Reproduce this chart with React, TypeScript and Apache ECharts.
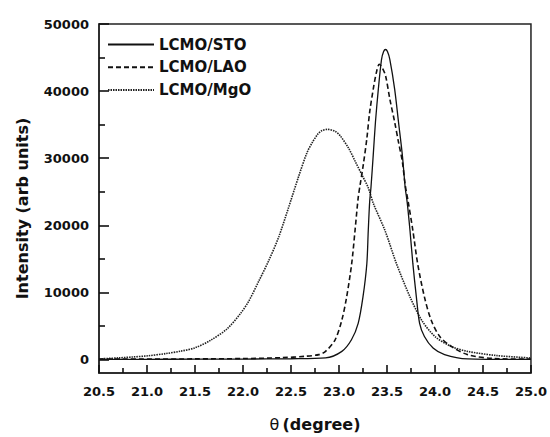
import React, { useEffect, useRef } from "react";
import * as echarts from "echarts";

const seriesNames = ["LCMO/STO", "LCMO/LAO", "LCMO/MgO"];

const stoTheta = [20.5, 21.0, 21.5, 22.0, 22.5, 22.86, 23.03, 23.13, 23.2, 23.25, 23.29, 23.305, 23.32, 23.333, 23.357, 23.38, 23.41, 23.443, 23.465, 23.485, 23.505, 23.53, 23.58, 23.62, 23.66, 23.69, 23.71, 23.74, 23.77, 23.806, 23.84, 23.89, 23.98, 24.1, 24.34, 24.6, 25.0];
const stoI = [30, 40, 60, 80, 120, 240, 1220, 2950, 5400, 9340, 14250, 19200, 23600, 25600, 30500, 35400, 40300, 44700, 45900, 46200, 45900, 44700, 40300, 35400, 30500, 25600, 23500, 19200, 14250, 9340, 5400, 3440, 1720, 740, 90, 40, 20];

const laoTheta = [20.5, 21.5, 22.0, 22.4, 22.65, 22.79, 22.86, 22.96, 23.03, 23.08, 23.132, 23.167, 23.2, 23.22, 23.253, 23.29, 23.32, 23.357, 23.39, 23.42, 23.45, 23.485, 23.53, 23.58, 23.62, 23.66, 23.69, 23.72, 23.77, 23.82, 23.89, 23.96, 24.05, 24.17, 24.34, 24.62, 25.0];
const laoI = [60, 100, 150, 280, 490, 740, 1220, 2950, 5900, 9340, 14250, 19200, 24100, 26000, 29000, 32900, 36900, 40300, 42800, 44000, 43500, 42300, 38800, 35400, 32400, 29500, 26000, 23600, 19200, 14250, 9340, 5900, 3440, 1960, 740, 150, 60];

const mgoTheta = [20.5, 20.7, 20.85, 21.0, 21.2, 21.35, 21.5, 21.665, 21.836, 21.976, 22.06, 22.165, 22.27, 22.373, 22.476, 22.58, 22.666, 22.72, 22.78, 22.82, 22.88, 22.96, 23.01, 23.1, 23.17, 23.24, 23.305, 23.357, 23.48, 23.6, 23.74, 23.86, 24.0, 24.17, 24.34, 24.65, 25.0];
const mgoI = [100, 250, 390, 550, 900, 1250, 1750, 2900, 4600, 6900, 8700, 11700, 14800, 18300, 22700, 27300, 30800, 32300, 33600, 34100, 34300, 34000, 33400, 31500, 29500, 27500, 25600, 23300, 19200, 14250, 9340, 5900, 3440, 1960, 1220, 590, 240];

const yLabelValues = [0, 10000, 20000, 30000, 40000, 50000];
const yMinorValues = [5000, 15000, 25000, 35000, 45000];

const FONT = "DejaVu Sans";

function pairs(xs: number[], ys: number[]) {
  return xs.map((x, i) => [x, ys[i]]);
}

export default function App() {
  const ref = useRef<HTMLDivElement>(null);
  useEffect(() => {
    if (!ref.current) return;
    const chart = echarts.init(ref.current, undefined, { renderer: "svg" });
    const lineColor = "#111";
    const tickStyle = { color: "#111", width: 1.6 };
    chart.setOption({
      animation: false,
      backgroundColor: "#fff",
      grid: {
        left: 99,
        top: 24,
        width: 435,
        height: 353,
        show: true,
        borderColor: "#222",
        borderWidth: 1.5,
        backgroundColor: "transparent",
      },
      legend: {
        orient: "vertical",
        left: 107,
        top: 37,
        padding: 0,
        itemWidth: 46,
        itemHeight: 14,
        itemGap: 7.7,
        data: seriesNames,
        itemStyle: { opacity: 0 },
        lineStyle: { opacity: 1 },
        textStyle: { fontFamily: FONT, fontWeight: "bold", fontSize: 15, color: "#111" },
      },
      xAxis: {
        type: "value",
        min: 20.5,
        max: 25.0,
        interval: 0.5,
        name: "{a|θ} {b|(degree)}",
        nameLocation: "middle",
        nameGap: 43,
        nameTextStyle: {
          rich: {
            a: { fontFamily: FONT, fontSize: 16, color: "#111" },
            b: { fontFamily: FONT, fontSize: 16, fontWeight: "bold", color: "#111" },
          },
        },
        axisLine: { show: true, onZero: false, lineStyle: { color: "#222", width: 1.5 } },
        axisTick: { show: true, inside: true, length: 8, lineStyle: tickStyle },
        minorTick: { show: true, splitNumber: 2, length: 5, lineStyle: tickStyle },
        splitLine: { show: false },
        axisLabel: {
          margin: 12,
          fontFamily: FONT,
          fontWeight: "bold",
          fontSize: 13,
          color: "#111",
          formatter: (v: number) => v.toFixed(1),
        },
      },
      yAxis: [
        {
          type: "value",
          min: -2000,
          max: 50000,
          name: "Intensity (arb units)",
          nameLocation: "middle",
          nameGap: 69,
          nameRotate: 90,
          nameTextStyle: {
            fontFamily: FONT,
            fontWeight: "bold",
            fontSize: 16,
            color: "#111",
            padding: [0, 20, 0, 0],
          },
          axisLine: { show: true, onZero: false, lineStyle: { color: "#222", width: 1.5 } },
          axisTick: {
            show: true,
            inside: true,
            length: 10,
            customValues: yLabelValues,
            lineStyle: tickStyle,
          },
          splitLine: { show: false },
          axisLabel: {
            margin: 10,
            customValues: yLabelValues,
            fontFamily: FONT,
            fontWeight: "bold",
            fontSize: 13,
            color: "#111",
            formatter: (v: number) => String(Math.round(v)),
          },
        },
        {
          type: "value",
          min: -2000,
          max: 50000,
          position: "left",
          offset: 0,
          axisLine: { show: false, onZero: false },
          axisTick: {
            show: true,
            inside: true,
            length: 6,
            customValues: yMinorValues,
            lineStyle: tickStyle,
          },
          axisLabel: { show: false },
          splitLine: { show: false },
        },
      ],
      series: [
        {
          name: seriesNames[0],
          type: "line",
          data: pairs(stoTheta, stoI),
          showSymbol: false,
          symbol: "none",
          smooth: 0.3,
          color: lineColor,
          lineStyle: { color: lineColor, width: 1.3, type: "solid" },
          z: 3,
        },
        {
          name: seriesNames[1],
          type: "line",
          data: pairs(laoTheta, laoI),
          showSymbol: false,
          symbol: "none",
          smooth: 0.3,
          color: lineColor,
          lineStyle: { color: lineColor, width: 1.6, type: [5, 3] },
          z: 2,
        },
        {
          name: seriesNames[2],
          type: "line",
          data: pairs(mgoTheta, mgoI),
          showSymbol: false,
          symbol: "none",
          smooth: 0.3,
          color: lineColor,
          lineStyle: { color: "#222", width: 1.6, type: [1.5, 1] },
          z: 1,
        },
      ],
    });
    return () => chart.dispose();
  }, []);
  return <div ref={ref} style={{ width: 550, height: 437, position: "absolute", left: 0, top: 0 }} />;
}
